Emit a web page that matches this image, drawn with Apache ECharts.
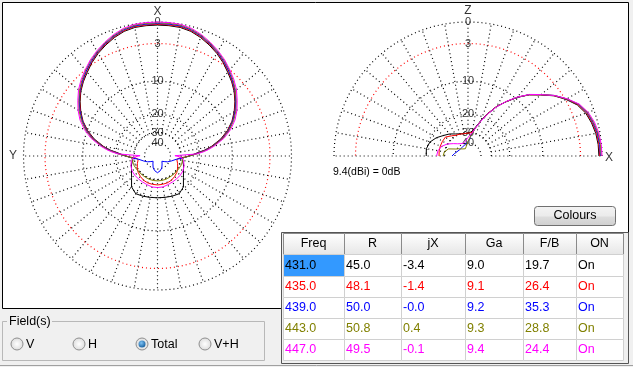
<!DOCTYPE html>
<html><head><meta charset="utf-8">
<script src="https://cdn.jsdelivr.net/npm/echarts@6/dist/echarts.min.js"></script>
<style>html,body{margin:0;padding:0;background:#f0f0f0;overflow:hidden}#c{width:633px;height:367px}</style>
</head><body><div id="c"></div>
<script>
// ---------- data ----------
const ringLevels = [0, -3, -10, -20, -30, -40];
const ringLabels = ['0', '3', '10', '20', '30', '40'];
const freqs = ['431.0', '435.0', '439.0', '443.0', '447.0'];
const colR  = ['45.0', '48.1', '50.0', '50.8', '49.5'];
const colJX = ['-3.4', '-1.4', '-0.0', '0.4', '-0.1'];
const colGa = ['9.0', '9.1', '9.2', '9.3', '9.4'];
const colFB = ['19.7', '26.4', '35.3', '28.8', '24.4'];
const colOn = ['On', 'On', 'On', 'On', 'On'];
const headers = ['Freq', 'R', 'jX', 'Ga', 'F/B', 'ON'];
const seriesColors = ['#000000', '#ff0000', '#0000ff', '#808000', '#ff00ff'];
const fieldOptions = ['V', 'H', 'Total', 'V+H'];
const fieldSelected = 'Total';
const refText = '9.4(dBi) = 0dB';

// azimuth (horizontal) pattern, degrees from forward (X), dB rel. 9.4 dBi
const azAngles = [0,5,10,15,20,25,30,35,40,45,50,55,60,65,70,75,80,83,85,87,89,92,95,100,110,120,130,140,150,160,170,180];
const az431 = [-0.4,-0.41,-0.45,-0.65,-1.05,-1.55,-2.1,-2.75,-3.5,-4.2,-5.0,-6.0,-7.1,-8.4,-10.1,-12.3,-15.4,-17.9,-20.3,-22.2,-24.0,-26.5,-29.0,-28.5,-27.0,-25.7,-23.6,-20.6,-19.3,-19.6,-19.9,-20.0];
const az435 = [-0.3,-0.31,-0.35,-0.55,-0.95,-1.45,-2.0,-2.65,-3.35,-4.1,-4.9,-5.9,-7.0,-8.3,-10.0,-12.1,-15.2,-17.6,-19.9,-21.8,-23.7,-27.0,-31.0,-33.0,-31.5,-30.0,-28.6,-27.7,-26.9,-26.5,-26.4,-26.3];
const az439 = [-0.2,-0.21,-0.25,-0.45,-0.85,-1.35,-1.9,-2.55,-3.25,-4.0,-4.8,-5.8,-6.9,-8.2,-9.8,-11.9,-15.0,-17.4,-19.6,-21.5,-23.5,-26.5,-29.0,-33.5,-38.0,-42.0,-47.0,-51.0,-46.0,-40.5,-37.5,-35.7];
const az443 = [-0.1,-0.11,-0.15,-0.35,-0.75,-1.25,-1.8,-2.4,-3.1,-3.85,-4.7,-5.7,-6.7,-8.0,-9.6,-11.7,-14.8,-17.1,-19.2,-21.0,-23.5,-26.5,-28.8,-28.5,-28.5,-28.9,-29.2,-29.3,-29.2,-29.0,-28.9,-28.9];
const az447 = [0,-0.01,-0.05,-0.25,-0.65,-1.15,-1.7,-2.3,-3.0,-3.7,-4.5,-5.5,-6.5,-7.7,-9.3,-11.4,-14.4,-16.6,-18.5,-21.0,-35.0,-31.0,-29.0,-27.8,-26.7,-26.0,-25.8,-25.8,-25.7,-25.4,-24.9,-24.8];

// elevation (vertical) pattern, degrees above X toward Z and over to -X
const elAngles = [0,5,10,15,20,25,30,35,40,45,50,55,60,65,70,75,80,85,90,100,110,120,130,140,150,160,170,180];
const el431 = [-0.4,-0.43,-0.55,-0.8,-1.15,-1.8,-2.9,-4.2,-5.9,-7.5,-9.6,-12.1,-14.6,-18.0,-21.8,-25.6,-28.5,-29.8,-30.5,-30.5,-29.8,-28.5,-26.4,-24.6,-22.3,-20.5,-19.8,-20.0];
const el435 = [-0.3,-0.33,-0.45,-0.7,-1.05,-1.7,-2.8,-4.15,-5.85,-7.5,-9.6,-12.1,-14.6,-18.1,-22.0,-26.0,-29.3,-30.2,-30.3,-30.5,-30.0,-29.5,-28.0,-26.0,-26.0,-26.0,-26.1,-26.3];
const el439 = [-0.2,-0.23,-0.35,-0.6,-0.95,-1.6,-2.75,-4.1,-5.8,-7.45,-9.6,-12.1,-14.7,-18.3,-22.0,-26.0,-30.5,-35.5,-38.5,-41.0,-42.5,-43.5,-44.0,-44.0,-43.0,-41.5,-39.0,-36.5];
const el443 = [-0.1,-0.13,-0.25,-0.5,-0.9,-1.55,-2.75,-4.1,-5.8,-7.45,-9.55,-12.1,-14.7,-18.3,-22.1,-26.1,-31.0,-34.5,-38.0,-45.0,-49.0,-47.5,-46.0,-42.5,-38.8,-32.0,-29.5,-28.9];
const el447 = [0,-0.03,-0.15,-0.4,-0.8,-1.5,-2.7,-4.1,-5.8,-7.4,-9.5,-12.0,-14.8,-18.3,-22.3,-26.3,-30.0,-32.0,-34.0,-37.5,-39.4,-38.5,-36.5,-33.3,-29.5,-26.8,-25.4,-24.9];

const azSets = [az431, az435, az439, az443, az447];
const elSets = [el431, el435, el439, el443, el447];

// ---------- layout / styles ----------
const R = 134, RMAX = 1.1;
const C1 = [157.5, 156], C2 = [468, 156];
const FONT = '"Liberation Sans", Arial, sans-serif';
const DOT = [1, 3];
const CLEAR = 'rgba(0,0,0,0)';

// ARRL log scale: each 2 dB step = factor 0.89 in radius
const toR = dB => Math.pow(0.89, -dB / 2);

const chart = echarts.init(document.getElementById('c'));
const series = [];

function ring(polarIndex, L, maxAng) {
  const pts = [];
  for (let a = 0; a <= maxAng; a += 2) pts.push([toR(L), a]);
  series.push({type: 'line', coordinateSystem: 'polar', polarIndex, data: pts, symbol: 'none', silent: true, clip: false, z: 1,
    lineStyle: {width: 1.2, type: DOT, color: L === -3 ? '#ff0000' : '#000000'}});
}
function spoke(polarIndex, a) {
  series.push({type: 'line', coordinateSystem: 'polar', polarIndex, data: [[toR(-30), a], [1, a]], symbol: 'none', silent: true, clip: false, z: 1,
    lineStyle: {width: 1.2, type: DOT, color: '#000000'}});
}
ringLevels.forEach(L => { ring(0, L, 360); ring(1, L, 180); });
for (let a = 0; a < 360; a += 10) spoke(0, a);
for (let a = 0; a <= 180; a += 10) spoke(1, a);

function labelSeries(pi, items, size) {
  series.push({type: 'scatter', coordinateSystem: 'polar', polarIndex: pi, symbol: 'circle', symbolSize: 1,
    itemStyle: {color: CLEAR}, silent: true, z: 2, clip: false, data: items,
    label: {show: true, position: 'inside', formatter: '{b}', color: '#000', fontSize: size, fontFamily: FONT}});
}
// ring labels (along the X axis of the left plot and Z axis of the right plot)
labelSeries(0, ringLevels.map((L, i) => ({value: [toR(L), 0], name: ringLabels[i]})), 11);
labelSeries(1, ringLevels.map((L, i) => ({value: [toR(L), 90], name: ringLabels[i]})), 11);
// axis names
labelSeries(0, [{value: [1.075, 0], name: 'X'}, {value: [1.078, 270], name: 'Y'}], 12);
labelSeries(1, [{value: [1.082, 90], name: 'Z'}, {value: [1.052, 359.4], name: 'X'}], 12);

// patterns
azSets.forEach((vals, k) => {
  const pts = [];
  for (let i = 0; i < azAngles.length; i++) pts.push([toR(vals[i]), azAngles[i]]);
  for (let i = azAngles.length - 2; i >= 0; i--) pts.push([toR(vals[i]), 360 - azAngles[i]]);
  series.push({type: 'line', coordinateSystem: 'polar', polarIndex: 0, data: pts, symbol: 'none', silent: true, clip: false, z: 3 + k,
    lineStyle: {width: 1, color: seriesColors[k]}});
});
elSets.forEach((vals, k) => {
  series.push({type: 'line', coordinateSystem: 'polar', polarIndex: 1, data: elAngles.map((a, i) => [toR(vals[i]), a]), symbol: 'none', silent: true, clip: false, z: 3 + k,
    lineStyle: {width: 1, color: seriesColors[k]}});
});

// ---------- UI chrome (graphic) ----------
const g = [];
g.push({type: 'rect', z: -10, shape: {x: 2.5, y: 2.5, width: 626, height: 306}, style: {fill: '#ffffff', stroke: '#000000', lineWidth: 1}});
g.push({type: 'text', z: 5, x: 333, y: 172, style: {text: refText, font: '10.5px ' + FONT, fill: '#000', textVerticalAlign: 'middle', verticalAlign: 'middle'}});
// Colours button
g.push({type: 'rect', z: 5, shape: {x: 534.5, y: 206.5, width: 81, height: 19, r: 3},
  style: {fill: new echarts.graphic.LinearGradient(0, 0, 0, 1, [{offset: 0, color: '#f4f4f4'}, {offset: 0.5, color: '#ebebeb'}, {offset: 0.55, color: '#dddddd'}, {offset: 1, color: '#cfcfcf'}]), stroke: '#707070', lineWidth: 1}});
g.push({type: 'text', z: 6, x: 575, y: 216, style: {text: 'Colours', font: '12.5px ' + FONT, fill: '#000', textAlign: 'center', align: 'center', textVerticalAlign: 'middle', verticalAlign: 'middle'}});

// table
const colX = [283, 344, 401, 465, 523, 576, 623];
const rowY = [233, 254, 276, 297, 318, 339, 360];
g.push({type: 'rect', z: 5, shape: {x: 281.5, y: 232.5, width: 347, height: 131}, style: {fill: '#f0f0f0', stroke: '#555555', lineWidth: 1}});
const cols = [freqs, colR, colJX, colGa, colFB, colOn];
headers.forEach((h, c) => {
  g.push({type: 'rect', z: 6, shape: {x: colX[c] + 0.5, y: rowY[0] + 0.5, width: colX[c + 1] - colX[c], height: rowY[1] - rowY[0]},
    style: {fill: new echarts.graphic.LinearGradient(0, 0, 0, 1, [{offset: 0, color: '#ffffff'}, {offset: 1, color: '#e6e6e6'}]), stroke: '#8a8a8a', lineWidth: 1}});
  g.push({type: 'text', z: 7, x: (colX[c] + colX[c + 1]) / 2, y: (rowY[0] + rowY[1]) / 2 + 0.5,
    style: {text: h, font: '12.5px ' + FONT, fill: '#000', textAlign: 'center', align: 'center', textVerticalAlign: 'middle', verticalAlign: 'middle'}});
});
for (let r = 0; r < freqs.length; r++) {
  for (let c = 0; c < headers.length; c++) {
    const sel = (r === 0 && c === 0);
    g.push({type: 'rect', z: 6, shape: {x: colX[c] + 0.5, y: rowY[r + 1] + 0.5, width: colX[c + 1] - colX[c], height: rowY[r + 2] - rowY[r + 1]},
      style: {fill: sel ? '#3399ff' : '#ffffff', stroke: '#d0d0d0', lineWidth: 1}});
    g.push({type: 'text', z: 7, x: colX[c] + 2, y: (rowY[r + 1] + rowY[r + 2]) / 2 + 0.5,
      style: {text: cols[c][r], font: '12.5px ' + FONT, fill: sel ? '#000' : seriesColors[r], textVerticalAlign: 'middle', verticalAlign: 'middle'}});
  }
}

// Field(s) group box
g.push({type: 'rect', z: 5, shape: {x: 2.5, y: 321.5, width: 262, height: 39}, style: {fill: 'none', stroke: '#b8b8b8', lineWidth: 1}});
g.push({type: 'rect', z: 6, shape: {x: 7, y: 315, width: 45, height: 14}, style: {fill: '#f0f0f0'}});
g.push({type: 'text', z: 7, x: 9, y: 322, style: {text: 'Field(s)', font: '12.5px ' + FONT, fill: '#000', textVerticalAlign: 'middle', verticalAlign: 'middle'}});
const radioX = [17, 79, 142, 205];
fieldOptions.forEach((f, i) => {
  g.push({type: 'circle', z: 6, shape: {cx: radioX[i], cy: 344, r: 6},
    style: {fill: new echarts.graphic.RadialGradient(0.5, 0.5, 0.6, [{offset: 0, color: '#ffffff'}, {offset: 1, color: '#d4d4d4'}]), stroke: '#8f8f8f', lineWidth: 1}});
  if (f === fieldSelected) {
    g.push({type: 'circle', z: 7, shape: {cx: radioX[i], cy: 344, r: 3.5},
      style: {fill: new echarts.graphic.RadialGradient(0.4, 0.35, 0.7, [{offset: 0, color: '#7fc3f5'}, {offset: 1, color: '#145d9c'}])}});
  }
  g.push({type: 'text', z: 7, x: radioX[i] + 9, y: 344.5, style: {text: f, font: '12.5px ' + FONT, fill: '#000', textVerticalAlign: 'middle', verticalAlign: 'middle'}});
});
g.push({type: 'line', z: 5, shape: {x1: 0, y1: 365.5, x2: 633, y2: 365.5}, style: {stroke: '#a0a0a0', lineWidth: 1}});

const hidden = {axisLine: {show: false}, axisTick: {show: false}, axisLabel: {show: false}, splitLine: {show: false}, splitArea: {show: false}};
chart.setOption({
  animation: false,
  backgroundColor: '#f0f0f0',
  polar: [{center: C1, radius: R * RMAX}, {center: C2, radius: R * RMAX}],
  angleAxis: [
    Object.assign({polarIndex: 0, type: 'value', min: 0, max: 360, startAngle: 90, clockwise: true}, hidden),
    Object.assign({polarIndex: 1, type: 'value', min: 0, max: 360, startAngle: 0, clockwise: false}, hidden)
  ],
  radiusAxis: [
    Object.assign({polarIndex: 0, type: 'value', min: 0, max: RMAX}, hidden),
    Object.assign({polarIndex: 1, type: 'value', min: 0, max: RMAX}, hidden)
  ],
  graphic: {elements: g},
  series
});
</script></body></html>
